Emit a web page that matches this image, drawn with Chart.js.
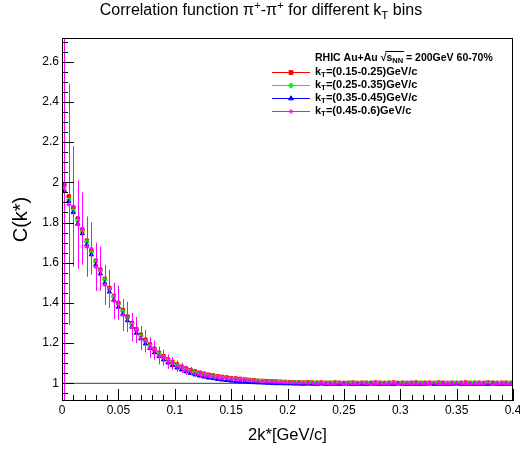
<!DOCTYPE html>
<html><head><meta charset="utf-8">
<script src="https://cdn.jsdelivr.net/npm/chart.js@4.4.1/dist/chart.umd.min.js"></script>
<style>html,body{margin:0;padding:0;background:#fff}canvas{display:block}</style>
</head><body>
<canvas id="c" width="520" height="450"></canvas>
<script>
// ---- bin centres of 2k* [GeV/c] (bin width 0.004) ----
const kstar = [
0.002,0.006,0.010,0.014,0.018,0.022,0.026,0.030,0.034,0.038,
0.042,0.046,0.050,0.054,0.058,0.062,0.066,0.070,0.074,0.078,
0.082,0.086,0.090,0.094,0.098,0.102,0.106,0.110,0.114,0.118,
0.122,0.126,0.130,0.134,0.138,0.142,0.146,0.150,0.154,0.158,
0.162,0.166,0.170,0.174,0.178,0.182,0.186,0.190,0.194,0.198,
0.202,0.206,0.210,0.214,0.218,0.222,0.226,0.230,0.234,0.238,
0.242,0.246,0.250,0.254,0.258,0.262,0.266,0.270,0.274,0.278,
0.282,0.286,0.290,0.294,0.298,0.302,0.306,0.310,0.314,0.318,
0.322,0.326,0.330,0.334,0.338,0.342,0.346,0.350,0.354,0.358,
0.362,0.366,0.370,0.374,0.378,0.382,0.386,0.390,0.394,0.398];
const binHalfWidth = 0.002;

// ---- C(k*) per kT bin ----
const cKt015 = [
1.99,1.93,1.875,1.82,1.765,1.71,1.66,1.61,1.565,1.52,
1.475,1.435,1.40,1.365,1.332,1.30,1.27,1.242,1.217,1.194,
1.172,1.152,1.135,1.119,1.106,1.094,1.083,1.074,1.066,1.059,
1.053,1.048,1.043,1.039,1.035,1.032,1.029,1.026,1.024,1.022,
1.019,1.017,1.015,1.013,1.012,1.011,1.010,1.009,1.008,1.007,
1.006,1.005,1.005,1.004,1.005,1.004,1.003,1.004,1.003,1.003,
1.004,1.003,1.002,1.003,1.004,1.002,1.003,1.003,1.002,1.004,
1.003,1.002,1.003,1.004,1.002,1.003,1.002,1.003,1.004,1.002,
1.003,1.003,1.002,1.004,1.003,1.002,1.003,1.002,1.003,1.004,
1.002,1.003,1.003,1.002,1.004,1.003,1.002,1.003,1.003,1.002];
const cKt025 = [
1.965,1.915,1.86,1.81,1.755,1.705,1.65,1.605,1.56,1.515,
1.47,1.43,1.393,1.358,1.325,1.293,1.263,1.235,1.21,1.187,
1.166,1.146,1.129,1.114,1.100,1.088,1.078,1.069,1.061,1.054,
1.048,1.043,1.038,1.034,1.031,1.028,1.025,1.022,1.020,1.018,
1.016,1.014,1.012,1.011,1.010,1.008,1.007,1.006,1.006,1.005,
1.004,1.004,1.003,1.004,1.003,1.002,1.003,1.003,1.002,1.003,
1.002,1.003,1.001,1.002,1.003,1.002,1.002,1.001,1.003,1.002,
1.002,1.001,1.003,1.002,1.002,1.003,1.001,1.002,1.002,1.003,
1.001,1.002,1.003,1.002,1.001,1.002,1.003,1.002,1.002,1.001,
1.002,1.003,1.002,1.001,1.002,1.002,1.003,1.001,1.002,1.002];
const cKt035 = [
1.955,1.905,1.85,1.795,1.745,1.69,1.64,1.59,1.545,1.50,
1.455,1.415,1.38,1.345,1.312,1.28,1.25,1.222,1.197,1.174,
1.153,1.134,1.117,1.102,1.089,1.077,1.067,1.058,1.050,1.043,
1.037,1.032,1.027,1.024,1.020,1.017,1.015,1.012,1.010,1.008,
1.007,1.005,1.004,1.003,1.002,1.001,1.000,0.999,0.999,0.998,
0.998,0.997,0.997,0.996,0.997,0.996,0.996,0.997,0.995,0.996,
0.996,0.995,0.997,0.996,0.995,0.996,0.996,0.995,0.997,0.996,
0.995,0.996,0.996,0.995,0.997,0.996,0.995,0.996,0.996,0.995,
0.996,0.997,0.995,0.996,0.996,0.995,0.996,0.997,0.995,0.996,
0.996,0.995,0.996,0.996,0.995,0.997,0.996,0.995,0.996,0.996];
const cKt045 = [
1.98,1.89,1.88,1.79,1.77,1.68,1.67,1.58,1.57,1.49,
1.47,1.41,1.40,1.34,1.33,1.28,1.265,1.225,1.21,1.178,
1.165,1.138,1.128,1.108,1.099,1.084,1.077,1.065,1.060,1.050,
1.047,1.040,1.038,1.032,1.030,1.026,1.024,1.021,1.020,1.017,
1.016,1.013,1.012,1.010,1.009,1.008,1.007,1.006,1.005,1.004,
1.003,1.002,1.002,1.001,1.000,1.000,0.999,1.000,0.999,0.998,
0.999,1.000,0.998,0.999,0.999,0.998,1.000,0.999,0.998,0.999,
0.999,0.998,0.999,1.000,0.998,0.999,0.999,0.998,0.999,0.999,
0.998,0.999,1.000,0.999,0.998,0.999,0.999,1.000,0.998,0.999,
0.999,0.998,0.999,0.999,1.000,0.998,0.999,0.999,0.998,0.999];

// ---- statistical errors ----
const errLowKt = [
0.09,0.07,0.055,0.046,0.04,0.035,0.031,0.028,0.025,0.023,
0.021,0.019,0.018,0.016,0.015,0.014,0.013,0.012,0.011,0.010,
0.010,0.009,0.009,0.008,0.008,0.007,0.007,0.007,0.006,0.006,
0.006,0.005,0.005,0.005,0.005,0.005,0.004,0.004,0.004,0.004,
0.003,0.003,0.003,0.003,0.003,0.003,0.003,0.003,0.003,0.003,
0.003,0.003,0.003,0.003,0.003,0.003,0.003,0.003,0.003,0.003,
0.003,0.003,0.003,0.003,0.003,0.003,0.003,0.003,0.003,0.003,
0.003,0.003,0.003,0.003,0.003,0.003,0.003,0.003,0.003,0.003,
0.003,0.003,0.003,0.003,0.003,0.003,0.003,0.003,0.003,0.003,
0.003,0.003,0.003,0.003,0.003,0.003,0.003,0.003,0.003,0.003];
const errKt045 = [
2.0,0.6,0.3,0.22,0.18,0.15,0.13,0.12,0.11,0.10,
0.095,0.09,0.085,0.08,0.075,0.07,0.065,0.06,0.056,0.052,
0.048,0.044,0.04,0.036,0.032,0.029,0.026,0.023,0.021,0.019,
0.017,0.015,0.014,0.013,0.012,0.011,0.010,0.009,0.009,0.008,
0.008,0.007,0.007,0.006,0.006,0.006,0.005,0.005,0.005,0.005,
0.004,0.004,0.004,0.004,0.004,0.004,0.004,0.004,0.004,0.004,
0.004,0.004,0.004,0.004,0.004,0.004,0.004,0.004,0.004,0.004,
0.004,0.004,0.004,0.004,0.004,0.004,0.004,0.004,0.004,0.004,
0.004,0.004,0.004,0.004,0.004,0.004,0.004,0.004,0.004,0.004,
0.004,0.004,0.004,0.004,0.004,0.004,0.004,0.004,0.004,0.004];

// ---- ticks and labels ----
const xTickValues = [0,0.05,0.1,0.15,0.2,0.25,0.3,0.35,0.4];
const yTickValues = [1,1.2,1.4,1.6,1.8,2,2.2,2.4,2.6];
const refLevel = 1;
const ktRanges = ['=(0.15-0.25)GeV/c','=(0.25-0.35)GeV/c','=(0.35-0.45)GeV/c','=(0.45-0.6)GeV/c'];

const FONT = '"Liberation Sans", Arial, Helvetica, sans-serif';
const fmt = v => String(Number(v.toFixed(3)));

function series(values, errs, color, style, radius, order, label) {
  return {
    label, order, errors: errs,
    data: kstar.map((x, i) => ({x, y: values[i]})),
    showLine: false,
    borderColor: color, backgroundColor: color,
    pointStyle: style, pointRadius: radius, pointBorderWidth: 1,
    pointBackgroundColor: color, pointBorderColor: color
  };
}

const datasets = [
  {type: 'line', label: 'ref', data: [{x: 0, y: refLevel}, {x: 0.4, y: refLevel}],
   borderColor: '#3a3a3a', borderWidth: 1, pointRadius: 0, order: 10},
  series(cKt015, errLowKt, '#ff0000', 'rect', 2.4, 4, ktRanges[0]),
  series(cKt025, errLowKt, '#00ff00', 'circle', 1.8, 3, ktRanges[1]),
  series(cKt035, errLowKt, '#0000ff', 'triangle', 2.4, 2, ktRanges[2]),
  series(cKt045, errKt045, '#ff00ff', 'star', 2.0, 1, ktRanges[3])
];

function drawRich(ctx, parts, x, y, size, weight, align) {
  const subScale = 0.72;
  const fontOf = (s) => `${weight} ${s}px ${FONT}`;
  let total = 0;
  const widths = parts.map(p => {
    ctx.font = fontOf(p.sub || p.sup ? size * subScale : size);
    const w = ctx.measureText(p.t).width; total += w; return w;
  });
  let cx = align === 'center' ? x - total / 2 : x;
  ctx.textBaseline = 'middle'; ctx.textAlign = 'left';
  let overStart = null, overEnd = null;
  parts.forEach((p, i) => {
    const s = p.sub || p.sup ? size * subScale : size;
    ctx.font = fontOf(s);
    let dy = 0;
    if (p.sub) dy = size * 0.3;
    if (p.sup) dy = -size * 0.35;
    ctx.fillText(p.t, cx, y + dy);
    if (p.over) { if (overStart === null) overStart = cx; overEnd = cx + widths[i]; }
    cx += widths[i];
  });
  if (overStart !== null) {
    ctx.save(); ctx.lineWidth = 1; ctx.strokeStyle = ctx.fillStyle;
    const oy = Math.round(y - size * 0.62) + 0.5;
    ctx.beginPath(); ctx.moveTo(overStart - 1, oy); ctx.lineTo(overEnd + 1, oy); ctx.stroke();
    ctx.restore();
  }
  return total;
}

const rootStyle = {
  id: 'rootStyle',
  beforeDatasetDraw(chart, args) {
    const ds = chart.data.datasets[args.index];
    if (!ds.errors) return;
    const {ctx, chartArea: a, scales: {x, y}} = chart;
    ctx.save();
    ctx.beginPath(); ctx.rect(a.left, a.top, a.right - a.left, a.bottom - a.top); ctx.clip();
    ctx.strokeStyle = ds.borderColor; ctx.lineWidth = 1;
    ctx.beginPath();
    ds.data.forEach((p, i) => {
      const e = ds.errors[i];
      const px = Math.round(x.getPixelForValue(p.x)) + 0.5;
      const py = Math.round(y.getPixelForValue(p.y)) + 0.5;
      ctx.moveTo(px, Math.max(a.top - 2, Math.min(a.bottom + 2, y.getPixelForValue(p.y - e))));
      ctx.lineTo(px, Math.max(a.top - 2, Math.min(a.bottom + 2, y.getPixelForValue(p.y + e))));
      ctx.moveTo(x.getPixelForValue(p.x - binHalfWidth), py);
      ctx.lineTo(x.getPixelForValue(p.x + binHalfWidth), py);
    });
    ctx.stroke();
    ctx.restore();
  },
  afterDatasetsDraw(chart) {
    const {ctx, chartArea: a, scales: {x, y}} = chart;
    ctx.save();
    ctx.strokeStyle = '#000'; ctx.lineWidth = 1;
    ctx.strokeRect(a.left + 0.5, a.top + 0.5, a.right - a.left - 1, a.bottom - a.top - 1);
    ctx.beginPath();
    for (let k = 0; k <= 40; k++) {
      const v = k * 0.01;
      const px = Math.round(x.getPixelForValue(v)) + 0.5;
      const len = (k % 5 === 0) ? 12 : 6;
      ctx.moveTo(px, a.bottom); ctx.lineTo(px, a.bottom - len);
    }
    for (let k = 19; k <= 54; k++) {
      const v = k * 0.05;
      if (v < y.min || v > y.max) continue;
      const py = Math.round(y.getPixelForValue(v)) + 0.5;
      const len = (k % 4 === 0) ? 12 : 6;
      ctx.moveTo(a.left, py); ctx.lineTo(a.left + len, py);
    }
    ctx.stroke();
    ctx.restore();
  },
  afterDraw(chart) {
    const ctx = chart.ctx;
    ctx.save();
    ctx.fillStyle = '#000';
    drawRich(ctx, [
      {t: 'Correlation function \u03c0'}, {t: '+', sup: 1}, {t: '-\u03c0'}, {t: '+', sup: 1},
      {t: ' for different k'}, {t: 'T', sub: 1}, {t: ' bins'}
    ], 261, 11, 16, 'normal', 'center');
    drawRich(ctx, [
      {t: 'RHIC Au+Au '}, {t: '\u221a'}, {t: 's', over: 1}, {t: 'NN', sub: 1, over: 1},
      {t: ' = 200GeV 60-70%'}
    ], 315, 58, 10.5, 'bold', 'left');
    const rows = [72, 85, 98, 111];
    chart.data.datasets.filter(d => d.errors).forEach((d, i) => {
      const ry = rows[i] + 0.5;
      ctx.save();
      ctx.strokeStyle = d.borderColor; ctx.fillStyle = d.borderColor; ctx.lineWidth = 1;
      ctx.beginPath(); ctx.moveTo(272, ry); ctx.lineTo(310, ry); ctx.stroke();
      Chart.helpers.drawPoint(ctx, {pointStyle: d.pointStyle, radius: d.pointRadius + 0.3,
        rotation: 0, borderWidth: 1}, 291, ry);
      ctx.restore();
      ctx.fillStyle = '#000';
      drawRich(ctx, [{t: 'k'}, {t: 'T', sub: 1}, {t: d.label}], 315, rows[i], 11, 'bold', 'left');
    });
    ctx.restore();
  }
};

new Chart(document.getElementById('c'), {
  type: 'scatter',
  data: {datasets},
  options: {
    responsive: false, animation: false, devicePixelRatio: 1,
    layout: {padding: {top: 38, right: 7, left: 0, bottom: 0}},
    plugins: {legend: {display: false}, tooltip: {enabled: false}, title: {display: false}},
    scales: {
      x: {
        type: 'linear', min: 0, max: 0.4,
        grid: {display: false, drawTicks: false, tickLength: 0}, border: {display: false},
        afterBuildTicks: s => { s.ticks = xTickValues.map(v => ({value: v})); },
        afterFit: s => { s.height = 49; s.paddingLeft = 0; s.paddingRight = 0; },
        ticks: {autoSkip: false, maxRotation: 0, padding: 2, color: '#000',
          font: {family: FONT, size: 12}, callback: v => fmt(v)},
        title: {display: true, text: '2k*[GeV/c]', color: '#000',
          font: {family: FONT, size: 16.5}, padding: {top: 0, bottom: 5}}
      },
      y: {
        type: 'linear', min: 0.912, max: 2.718,
        grid: {display: false, drawTicks: false, tickLength: 0}, border: {display: false},
        afterBuildTicks: s => { s.ticks = yTickValues.map(v => ({value: v})); },
        afterFit: s => { s.width = 62; },
        ticks: {autoSkip: false, padding: 3, color: '#000',
          font: {family: FONT, size: 12}, callback: v => fmt(v)},
        title: {display: true, text: 'C(k*)', color: '#000',
          font: {family: FONT, size: 20}, padding: {top: 9, bottom: 0}}
      }
    }
  },
  plugins: [rootStyle]
});
</script>
</body></html>
